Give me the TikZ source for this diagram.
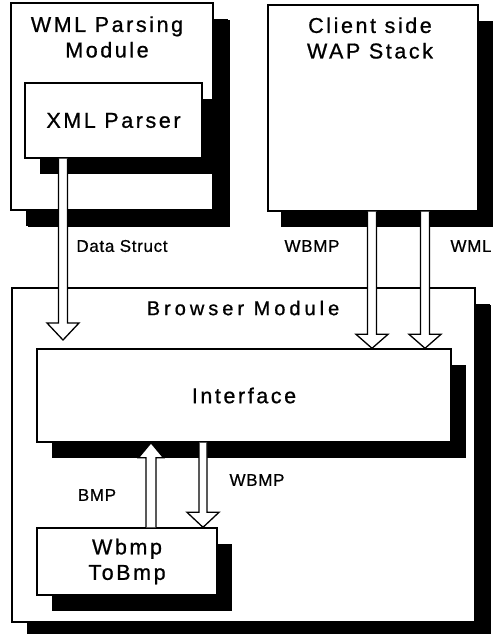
\documentclass[tikz,border=0pt]{standalone}
\usepackage{fontspec}
\setmainfont{Liberation Sans}
\newfontfamily\boxfont[LetterSpace=12,FakeBold=0.8]{Liberation Sans}
\newfontfamily\widefont[LetterSpace=20,FakeBold=0.8]{Liberation Sans}
\newfontfamily\tagfont[LetterSpace=4,FakeBold=0.6]{Liberation Sans}
\usetikzlibrary{shadows,calc}

% hollow block arrow pointing down: #1 start, #2 tip, #3 shaft half width, #4 head half width, #5 head length
\newcommand\flowdown[5]{%
  \draw[flow] let \p1=(#1), \p2=(#2) in
    (\x2-#3,\y1) -- (\x2-#3,\y2+#5) -- (\x2-#4,\y2+#5) -- (\x2,\y2)
    -- (\x2+#4,\y2+#5) -- (\x2+#3,\y2+#5) -- (\x2+#3,\y1);}
% hollow block arrow pointing up
\newcommand\flowup[5]{%
  \draw[flow] let \p1=(#1), \p2=(#2) in
    (\x2-#3,\y1) -- (\x2-#3,\y2-#5) -- (\x2-#4,\y2-#5) -- (\x2,\y2)
    -- (\x2+#4,\y2-#5) -- (\x2+#3,\y2-#5) -- (\x2+#3,\y1);}

\begin{document}
\begin{tikzpicture}[x=1pt,y=-1pt,
  box/.style={draw=black,line width=1.4pt,fill=white,rectangle,inner sep=0pt,
    drop shadow={shadow xshift=15pt,shadow yshift=-16pt,opacity=1,fill=black}},
  boxtext/.style={font=\boxfont\fontsize{21.5}{25.5}\selectfont,align=center},
  wide/.style={font=\widefont\fontsize{20}{24}\selectfont,inner sep=0pt},
  tag/.style={font=\tagfont\fontsize{17}{20}\selectfont,inner sep=0pt},
  flow/.style={draw=black,line width=1.3pt,fill=white,line join=miter}]

\useasboundingbox (0,0) rectangle (499,634);

% WML parsing module with its XML parser
\node[box,minimum width=202pt,minimum height=207pt,
  drop shadow={shadow xshift=17pt,shadow yshift=-17pt,opacity=1,fill=black}] (wml) at (112,106.5) {};
\node[boxtext,inner sep=0pt] (wmltitle) at (107,37) {WML Parsing\\Module};
\node[box,boxtext,minimum width=177pt,minimum height=75pt] (xml) at (113.5,120.5) {XML Parser};

% client side stack
\node[box,minimum width=210pt,minimum height=206pt,
  drop shadow={shadow xshift=13pt,shadow yshift=-16pt,opacity=1,fill=black}] (wap) at (373,108) {};
\node[boxtext,inner sep=0pt] (waptitle) at (370,38) {Client side\\WAP Stack};

% browser module
\node[box,minimum width=463pt,minimum height=334pt,
  drop shadow={shadow xshift=16pt,shadow yshift=-17pt,opacity=1,fill=black}] (browser) at (243.5,455) {};
\node[wide] (browsertitle) at (243,308) {Browser Module};
\node[box,boxtext,minimum width=414pt,minimum height=93pt] (iface) at (244,395.5) {Interface};
\node[box,boxtext,minimum width=180pt,minimum height=67pt] (wbmp) at (127,561.5) {Wbmp\\ToBmp};

% arrow positions
\coordinate (dstip) at (63,340);
\coordinate (wbx) at (372,0);
\coordinate (wmx) at (425,0);
\coordinate (bmx) at (151,0);
\coordinate (wbx2) at (203,0);

\flowdown{xml.south -| dstip}{dstip}{4.5pt}{16pt}{17pt}
\flowdown{wap.south -| wbx}{iface.north -| wbx}{4.5pt}{16pt}{14pt}
\flowdown{wap.south -| wmx}{iface.north -| wmx}{4.5pt}{16pt}{14pt}
\flowup{wbmp.north -| bmx}{iface.south -| bmx}{5pt}{12.5pt}{15pt}
\flowdown{iface.south -| wbx2}{wbmp.north -| wbx2}{4pt}{16pt}{15pt}

% connector labels
\node[tag] (lds) at (122,246) {Data Struct};
\node[tag] (lwb) at (312,246) {WBMP};
\node[tag] (lwml) at (471,246) {WML};
\node[tag] (lbmp) at (97,495) {BMP};
\node[tag] (lwb2) at (257,480) {WBMP};
\end{tikzpicture}
\end{document}
